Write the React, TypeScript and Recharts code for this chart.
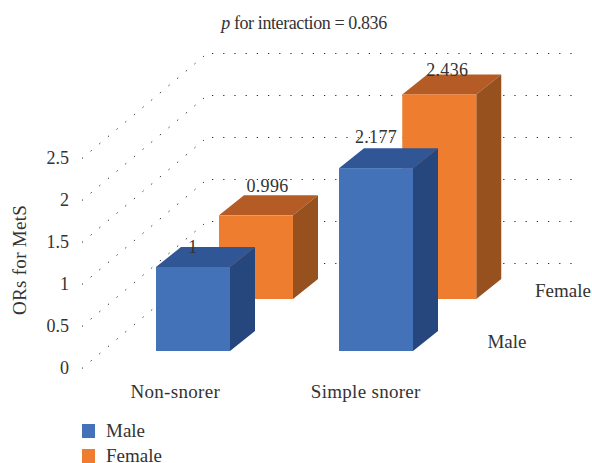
import React from 'react';
import { BarChart, Bar, XAxis, YAxis, CartesianGrid, LabelList, Legend } from 'recharts';

const categories = ['Non-snorer', 'Simple snorer'];
const maleValues = [1, 2.177];
const femaleValues = [0.996, 2.436];
const maleLabels = ['1', '2.177'];
const femaleLabels = ['0.996', '2.436'];
const yTicks = [0, 0.5, 1, 1.5, 2, 2.5];
const tickLabels = ['0', '0.5', '1', '1.5', '2', '2.5'];
const legendNames = ['Male', 'Female'];

const data = categories.map((category, i) => ({ category, male: maleValues[i], female: femaleValues[i] }));

const FONT = '"Liberation Serif", serif';
const TEXT = '#333333';
const FS = 18;
const FS_LG = 19;
const DEPTH_X = 25;
const DEPTH_Y = 20;
const MALE_LIFT = 17;
const FEMALE_LIFT = 69;
const maleColors = { front: '#4472B9', top: '#305696', side: '#25477E' };
const femaleColors = { front: '#EE7D2F', top: '#B55B25', side: '#96511F' };

const box3d = (lift: number, c: { front: string; top: string; side: string }) => (p: any) => {
  const x = p.x, w = p.width, y = p.y - lift, h = p.height;
  return (
    <g>
      <polygon fill={c.top} points={`${x},${y} ${x + DEPTH_X},${y - DEPTH_Y} ${x + w + DEPTH_X},${y - DEPTH_Y} ${x + w},${y}`} />
      <polygon fill={c.side} points={`${x + w},${y} ${x + w + DEPTH_X},${y - DEPTH_Y} ${x + w + DEPTH_X},${y + h - DEPTH_Y} ${x + w},${y + h}`} />
      <rect x={x} y={y} width={w} height={h} fill={c.front} />
    </g>
  );
};

const barLabel = (names: string[], lift: number, nudge: number[][]) => (p: any) => {
  const i = p.index;
  return (
    <text
      x={p.x + p.width / 2 + nudge[i][0]}
      y={p.y - lift - nudge[i][1]}
      textAnchor="middle"
      dominantBaseline="central"
      fontFamily={FONT}
      fontSize={FS}
      letterSpacing={0.35}
      fill={TEXT}
    >
      {names[i]}
    </text>
  );
};

const gridLine = (p: any) => {
  const x0 = 82, y0 = p.y1;
  const cx = 207, cy = y0 - 105;
  return (
    <g key={`g-${p.index}`} fill="none" stroke="#222222" strokeWidth={1}>
      <polyline points={`${x0},${y0 + 0.5} ${cx - 3},${cy + 3}`} strokeDasharray="1.3 10" />
      <polyline points={`212,${cy + 0.5} 572,${cy + 0.5}`} strokeDasharray="1.2 10" />
    </g>
  );
};

const legendContent = () => (
  <div style={{ fontFamily: FONT, fontSize: FS_LG, color: TEXT }}>
    {legendNames.map((name, i) => (
      <div key={name} style={{ display: 'flex', alignItems: 'center', height: 25 }}>
        <span style={{ width: 13, height: 14, background: i === 0 ? maleColors.front : femaleColors.front, marginRight: 11 }} />
        <span>{name}</span>
      </div>
    ))}
  </div>
);

export default function App() {
  return (
    <div style={{ position: 'absolute', left: 0, top: 0, width: 592, height: 463 }}>
      <BarChart
        width={592}
        height={463}
        data={data}
        barCategoryGap={0}
        margin={{ top: 158, right: 20, bottom: 65, left: 20 }}
      >
        <CartesianGrid vertical={false} horizontal={gridLine} />
        <XAxis xAxisId="male" dataKey="category" hide height={0} padding={{ left: 21, right: 105 }} />
        <XAxis xAxisId="female" dataKey="category" hide height={0} padding={{ left: 84, right: 41.5 }} />
        <XAxis
          xAxisId="labels"
          dataKey="category"
          height={30}
          axisLine={false}
          tickLine={false}
          padding={{ left: 0, right: 111 }}
          tick={{ fontFamily: FONT, fontSize: FS_LG, letterSpacing: 0.3, fill: TEXT }}
          tickMargin={11}
        />
        <YAxis
          domain={[0, 2.5]}
          ticks={yTicks}
          tickFormatter={(v: number) => tickLabels[yTicks.indexOf(v)]}
          width={60}
          axisLine={false}
          tickLine={false}
          tickMargin={5}
          tick={{ fontFamily: FONT, fontSize: FS, fill: TEXT }}
          label={{
            value: 'ORs for MetS',
            angle: -90,
            position: 'insideLeft',
            dx: -6,
            dy: 52,
            fontFamily: FONT,
            fontSize: FS_LG,
            letterSpacing: 0.3,
            fill: TEXT,
          }}
        />
        <Bar
          dataKey="female"
          name="Female"
          xAxisId="female"
          barSize={74}
          isAnimationActive={false}
          shape={box3d(FEMALE_LIFT, femaleColors)}
        >
          <LabelList dataKey="female" content={barLabel(femaleLabels, FEMALE_LIFT, [[11.5, 29], [8, 24]])} />
        </Bar>
        <Bar
          dataKey="male"
          name="Male"
          xAxisId="male"
          barSize={74}
          isAnimationActive={false}
          shape={box3d(MALE_LIFT, maleColors)}
        >
          <LabelList dataKey="male" content={barLabel(maleLabels, MALE_LIFT, [[0, 20], [0, 31]])} />
        </Bar>
        <Legend
          layout="horizontal"
          verticalAlign="middle"
          align="center"
          content={legendContent}
          wrapperStyle={{ left: 82, top: 418, width: 120 }}
        />
        <text x={304} y={23} textAnchor="middle" dominantBaseline="central" fontFamily={FONT} fontSize={18} letterSpacing={-0.4} fill={TEXT}>
          <tspan fontStyle="italic">p</tspan> for interaction = 0.836
        </text>
        <text x={507} y={341} textAnchor="middle" dominantBaseline="central" fontFamily={FONT} fontSize={FS_LG} fill={TEXT}>
          {legendNames[0]}
        </text>
        <text x={563} y={290} textAnchor="middle" dominantBaseline="central" fontFamily={FONT} fontSize={FS_LG} fill={TEXT}>
          {legendNames[1]}
        </text>
      </BarChart>
    </div>
  );
}
